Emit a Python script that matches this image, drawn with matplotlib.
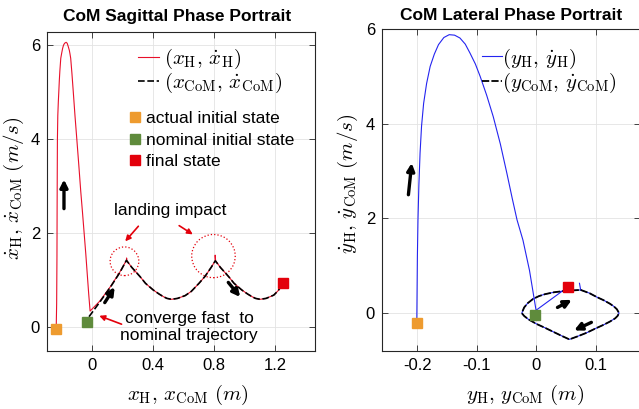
import matplotlib
matplotlib.use("Agg")
import matplotlib.pyplot as plt
from matplotlib.patches import Ellipse

plt.rcParams['font.family'] = ['Liberation Sans', 'DejaVu Sans']
plt.rcParams['mathtext.fontset'] = 'cm'
plt.rcParams['axes.unicode_minus'] = False

# ---------------- Sagittal data ----------------
# hip (H) trajectory: transient then periodic part
x_H = [-0.235, -0.232, -0.230, -0.229, -0.228, -0.227, -0.2245, -0.221, -0.218, -0.2145,
       -0.211, -0.205, -0.199, -0.193, -0.187, -0.180, -0.170, -0.163, -0.157, -0.149,
       -0.145, -0.140, -0.132, -0.123, -0.112, -0.100, -0.087, -0.074, -0.063, -0.052,
       -0.041, -0.031, -0.022, -0.013,
       0.05, 0.12, 0.18, 0.225, 0.226, 0.228,
       0.26, 0.315, 0.35, 0.40, 0.44, 0.468, 0.49, 0.52, 0.56, 0.61, 0.65, 0.70, 0.74,
       0.78, 0.806, 0.806, 0.809,
       0.84, 0.895, 0.93, 0.98, 1.02, 1.048, 1.07, 1.10, 1.14, 1.19, 1.22, 1.25]
xd_H = [-0.05, 0.5, 1.5, 2.5, 3.3, 4.0, 4.5, 4.8, 5.0, 5.25,
        5.45, 5.72, 5.83, 5.93, 6.0, 6.04, 6.06, 6.04, 5.98, 5.89,
        5.82, 5.72, 5.40, 5.0, 4.5, 4.0, 3.45, 2.88, 2.45, 2.0,
        1.55, 1.1, 0.7, 0.34,
        0.55, 0.86, 1.16, 1.42, 1.47, 1.41,
        1.27, 1.07, 0.93, 0.79, 0.70, 0.645, 0.61, 0.59, 0.61, 0.67, 0.76, 0.93, 1.08,
        1.27, 1.41, 1.53, 1.41,
        1.27, 1.07, 0.93, 0.79, 0.70, 0.645, 0.61, 0.59, 0.61, 0.68, 0.78, 0.93]
# CoM trajectory
x_CoM = [-0.02, 0.05, 0.12, 0.18, 0.225,
         0.26, 0.315, 0.35, 0.40, 0.44, 0.468, 0.49, 0.52, 0.56, 0.61, 0.65, 0.70, 0.74,
         0.78, 0.807,
         0.84, 0.895, 0.93, 0.98, 1.02, 1.048, 1.07, 1.10, 1.14, 1.19, 1.22, 1.25]
xd_CoM = [0.22, 0.53, 0.85, 1.15, 1.42,
          1.27, 1.07, 0.93, 0.79, 0.70, 0.645, 0.61, 0.59, 0.61, 0.67, 0.76, 0.93, 1.08,
          1.27, 1.41,
          1.27, 1.07, 0.93, 0.79, 0.70, 0.645, 0.61, 0.59, 0.61, 0.68, 0.78, 0.93]
sag_actual_init = (-0.235, -0.05)
sag_nominal_init = (-0.031, 0.11)
sag_final = (1.25, 0.93)

# ---------------- Lateral data ----------------
y_H = [-0.2005, -0.2000, -0.1995, -0.1985, -0.197, -0.195, -0.1925, -0.189, -0.184, -0.178,
       -0.171, -0.164, -0.155, -0.146, -0.137, -0.128, -0.119, -0.111, -0.102, -0.094,
       -0.083, -0.072, -0.060, -0.049, -0.040, -0.032, -0.022, -0.011, 0.0, 0.054]
yd_H = [-0.205, 0.5, 1.2, 1.97, 2.7, 3.38, 3.95, 4.43, 4.85, 5.21,
        5.47, 5.67, 5.82, 5.88, 5.87, 5.81, 5.68, 5.49, 5.26, 5.0,
        4.6, 4.15, 3.57, 2.95, 2.42, 1.97, 1.54, 0.9, 0.06, 0.556]
y_H_loop = [0.073, 0.074, 0.075, 0.090, 0.102, 0.114, 0.124, 0.131, 0.136, 0.1395, 0.137,
            0.133, 0.124, 0.113, 0.099, 0.085, 0.070, 0.056, 0.043, 0.029, 0.015,
            0.001, -0.013, -0.020, -0.024, -0.020, -0.014, -0.005, 0.005, 0.015,
            0.030, 0.049, 0.062, 0.075]
yd_H_loop = [0.63, 0.56, 0.49, 0.42, 0.34, 0.27, 0.20, 0.14, 0.08, 0.0, -0.06,
             -0.11, -0.18, -0.25, -0.33, -0.415, -0.49, -0.555, -0.48, -0.395, -0.31,
             -0.23, -0.13, -0.06, 0.0, 0.12, 0.21, 0.30, 0.36, 0.40,
             0.44, 0.47, 0.48, 0.49]
y_CoM = y_H_loop[2:]
yd_CoM = yd_H_loop[2:]
lat_actual_init = (-0.2005, -0.205)
lat_nominal_init = (-0.001, -0.04)
lat_final = (0.054, 0.556)

c_orange = '#EE9B2F'
c_green = '#5F8B3C'
c_red = '#E3000B'

fig = plt.figure(figsize=(6.39, 4.09), dpi=100)
ax1 = fig.add_axes([0.0736, 0.1418, 0.4194, 0.78])
ax2 = fig.add_axes([0.5978, 0.1418, 0.4040, 0.7873])


def style(ax):
    ax.grid(True, color='#E3E3E3', linewidth=0.6)
    ax.set_axisbelow(True)
    for s in ax.spines.values():
        s.set_color('#262626')
        s.set_linewidth(0.8)
    ax.tick_params(direction='in', length=4, width=0.6, top=True, right=True,
                   labelsize=12, colors='#262626', pad=5)
    for lab in ax.get_xticklabels() + ax.get_yticklabels():
        lab.set_color('black')


# ---------- Left: sagittal ----------
lh, = ax1.plot(x_H, xd_H, color='#E8102A', lw=0.8, label=r'$(x_{\rm H},\, \dot{x}_{\rm H})$')
lc, = ax1.plot(x_CoM, xd_CoM, color='black', lw=1.2, ls=(0, (4, 1.6)),
               label=r'$(x_{\rm CoM},\, \dot{x}_{\rm CoM})$')
m1, = ax1.plot(*sag_actual_init, 's', color=c_orange, ms=6.5, label='actual initial state')
m2, = ax1.plot(*sag_nominal_init, 's', color=c_green, ms=6.5, label='nominal initial state')
m3, = ax1.plot(*sag_final, 's', color=c_red, ms=7, label='final state')

ax1.set_xlim(-0.295, 1.46)
ax1.set_ylim(-0.51, 6.28)
ax1.set_xticks([0, 0.4, 0.8, 1.2])
ax1.set_xticklabels(['0', '0.4', '0.8', '1.2'])
ax1.set_yticks([0, 2, 4, 6])
style(ax1)
fig.text(177 / 639, 1 - 16 / 409, 'CoM Sagittal Phase Portrait', fontsize=12.5,
         fontweight='bold', ha='center', va='center')
ax1.set_xlabel(r'$x_{\rm H},\, x_{\rm CoM}\ (m)$', fontsize=15)
ax1.set_ylabel(r'$\dot{x}_{\rm H},\, \dot{x}_{\rm CoM}\ (m/s)$', fontsize=15)
ax1.xaxis.set_label_coords(0.526, -0.10)
ax1.yaxis.set_label_coords(-0.08, 0.51)

leg1 = ax1.legend(handles=[lh, lc], loc='upper left', bbox_to_anchor=(0.34, 0.953),
                  frameon=False, fontsize=15, handlelength=1.0, handletextpad=0.25,
                  borderpad=0, borderaxespad=0, labelspacing=0.0)
ax1.add_artist(leg1)
ax1.legend(handles=[m1, m2, m3], loc='upper left', bbox_to_anchor=(0.305, 0.752),
           frameon=False, fontsize=12.5, handlelength=0.7, handletextpad=0.3,
           borderpad=0, borderaxespad=0, labelspacing=0.36)

# annotations
ax1.add_patch(Ellipse((0.212, 1.40), 0.188, 0.61, fill=False, ec=c_red, ls=':', lw=0.9))
ax1.add_patch(Ellipse((0.795, 1.51), 0.285, 0.92, fill=False, ec=c_red, ls=':', lw=0.9))
ax1.text(0.51, 2.49, 'landing impact', fontsize=12.5, ha='center', va='center')
ax1.annotate('', xy=(0.205, 1.78), xytext=(0.315, 2.19),
             arrowprops=dict(arrowstyle='-|>', color=c_red, lw=1.2, mutation_scale=8))
ax1.annotate('', xy=(0.675, 1.94), xytext=(0.555, 2.19),
             arrowprops=dict(arrowstyle='-|>', color=c_red, lw=1.2, mutation_scale=8))
ax1.text(0.636, 0.007, 'converge fast  to\nnominal trajectory', fontsize=12.5,
         ha='center', va='center', linespacing=1.2)
ax1.annotate('', xy=(0.03, 0.26), xytext=(0.21, 0.04),
             arrowprops=dict(arrowstyle='-|>', color=c_red, lw=1.2, mutation_scale=8))
# black direction arrows
for (x0, y0), (x1, y1) in [((-0.184, 2.52), (-0.184, 3.14)),
                           ((0.083, 0.52), (0.148, 0.85)),
                           ((0.892, 0.95), (0.970, 0.64))]:
    ax1.annotate('', xy=(x1, y1), xytext=(x0, y0),
                 arrowprops=dict(arrowstyle='-|>', color='black', lw=2.4, mutation_scale=11,
                                 shrinkA=0, shrinkB=0))

# ---------- Right: lateral ----------
bh, = ax2.plot(y_H, yd_H, color='#2424F0', lw=0.8, label=r'$(y_{\rm H},\, \dot{y}_{\rm H})$')
ax2.plot(y_H_loop, yd_H_loop, color='#2424F0', lw=0.8)
bc, = ax2.plot(y_CoM, yd_CoM, color='black', lw=1.3, ls=(0, (4, 1.2)),
               label=r'$(y_{\rm CoM},\, \dot{y}_{\rm CoM})$')
ax2.plot(*lat_actual_init, 's', color=c_orange, ms=6.5)
ax2.plot(*lat_nominal_init, 's', color=c_green, ms=6.5)
ax2.plot(*lat_final, 's', color=c_red, ms=7)

ax2.set_xlim(-0.259, 0.175)
ax2.set_ylim(-0.8, 6.0)
ax2.set_xticks([-0.2, -0.1, 0, 0.1])
ax2.set_xticklabels(['-0.2', '-0.1', '0', '0.1'])
ax2.set_yticks([0, 2, 4, 6])
style(ax2)
fig.text(511 / 639, 1 - 15 / 409, 'CoM Lateral Phase Portrait', fontsize=12.5,
         fontweight='bold', ha='center', va='center')
ax2.set_xlabel(r'$y_{\rm H},\, y_{\rm CoM}\ (m)$', fontsize=15)
ax2.set_ylabel(r'$\dot{y}_{\rm H},\, \dot{y}_{\rm CoM}\ (m/s)$', fontsize=15)
ax2.xaxis.set_label_coords(0.554, -0.10)
ax2.yaxis.set_label_coords(-0.085, 0.52)
ax2.legend(handles=[bh, bc], loc='upper left', bbox_to_anchor=(0.386, 0.945),
           frameon=False, fontsize=15, handlelength=1.0, handletextpad=0.0,
           borderpad=0, borderaxespad=0, labelspacing=0.0)

for (x0, y0), (x1, y1) in [((-0.2146, 2.50), (-0.209, 3.17)),
                           ((0.036, 0.12), (0.060, 0.28)),
                           ((0.093, -0.195), (0.064, -0.365))]:
    ax2.annotate('', xy=(x1, y1), xytext=(x0, y0),
                 arrowprops=dict(arrowstyle='-|>', color='black', lw=2.4, mutation_scale=11,
                                 shrinkA=0, shrinkB=0))

fig.savefig('out.png', dpi=100)
